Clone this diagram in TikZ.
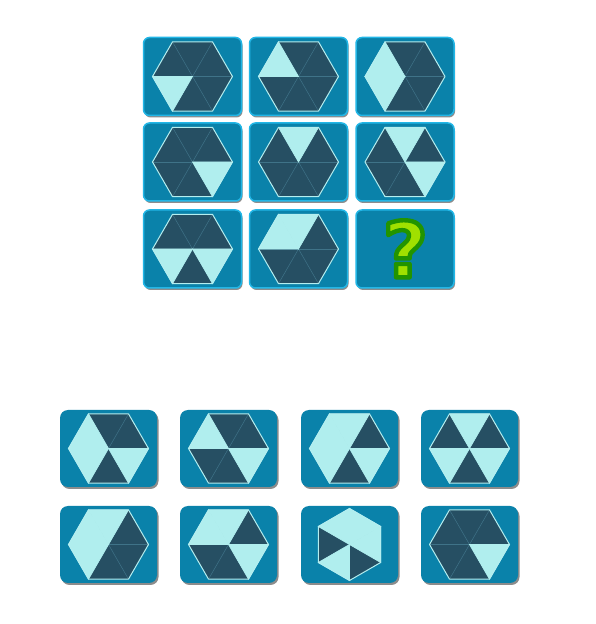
\documentclass[tikz,border=0pt]{standalone}
\usepackage{fontspec}
\newfontfamily\qfont{DejaVu Sans Bold}
\usetikzlibrary{shadows}
\definecolor{darkc}{HTML}{264F63}
\definecolor{lightc}{HTML}{B0EEEE}
\definecolor{tilec}{HTML}{0A82AA}
\definecolor{gridborder}{HTML}{22B6E6}
\definecolor{spokec}{HTML}{3F7388}
\definecolor{hexlinec}{HTML}{B4EEF0}
\definecolor{qgreen}{HTML}{A0E000}
\newcommand\outlinetext[1]{\special{pdf:code 2 Tr 4.4 w 1 j 0.133 0.58 0 RG}#1}
\newcommand\drawhex[4]{%
  \begin{scope}[shift={(#1)},rotate=#2]
    \fill[darkc] (0:#3) -- (60:#3) -- (120:#3) -- (180:#3) -- (240:#3) -- (300:#3) -- cycle;
    \foreach \a in {0,60,...,300} \draw[spokec,line width=0.5pt] (0,0) -- (\a:#3);
    \foreach \k in {#4} \filldraw[fill=lightc,draw=lightc,line width=0.7pt] (0,0) -- (\k*60:#3) -- (\k*60+60:#3) -- cycle;
    \draw[hexlinec,line width=1pt,line join=round] (0:#3) -- (60:#3) -- (120:#3) -- (180:#3) -- (240:#3) -- (300:#3) -- cycle;
  \end{scope}}
\begin{document}
\begin{tikzpicture}[x=1pt,y=1pt,
  gridtile/.style={rectangle,rounded corners=6pt,fill=tilec,draw=gridborder,line width=1.5pt,
    minimum width=98pt,minimum height=78pt,inner sep=0pt,
    drop shadow={shadow xshift=1pt,shadow yshift=-2pt,fill=black,opacity=.45}},
  anstile/.style={rectangle,rounded corners=8pt,fill=tilec,
    minimum width=97pt,minimum height=77pt,inner sep=0pt,
    drop shadow={shadow xshift=1.5pt,shadow yshift=-2pt,fill=black,opacity=.45}}]
\useasboundingbox[fill=white] (0,0) rectangle (596,624);
% grid tiles
\node[gridtile] (t11) at (192.5,547.5) {};
\node[gridtile] (t12) at (298.5,547.5) {};
\node[gridtile] (t13) at (405,547.5) {};
\node[gridtile] (t21) at (192.5,462) {};
\node[gridtile] (t22) at (298.5,462) {};
\node[gridtile] (t23) at (405,462) {};
\node[gridtile] (t31) at (192.5,375) {};
\node[gridtile] (t32) at (298.5,375) {};
\node[gridtile] (t33) at (405,375) {};
\drawhex{t11.center}{0}{40}{3}
\drawhex{t12.center}{0}{40}{2}
\drawhex{t13.center}{0}{40}{2,3}
\drawhex{t21.center}{0}{40}{5}
\drawhex{t22.center}{0}{40}{1}
\drawhex{t23.center}{0}{40}{1,5}
\drawhex{t31.center}{0}{40}{3,5}
\drawhex{t32.center}{0}{40}{1,2}
\node[text=qgreen,font=\qfont\fontsize{77}{77}\selectfont,inner sep=0pt,anchor=base] (q) at (405.3,346.6) {\outlinetext{?}};
% answer tiles
\node[anstile] (a1) at (108.5,175.5) {};
\node[anstile] (a2) at (228.5,175.5) {};
\node[anstile] (a3) at (349.5,175.5) {};
\node[anstile] (a4) at (469.5,175.5) {};
\node[anstile] (a5) at (108.5,79.5) {};
\node[anstile] (a6) at (228.5,79.5) {};
\node[anstile] (a7) at (349.5,79.5) {};
\node[anstile] (a8) at (469.5,79.5) {};
\drawhex{a1.center}{0}{40}{2,3,5}
\drawhex{a2.center}{0}{40}{2,5}
\drawhex{a3.center}{0}{40}{1,2,3,5}
\drawhex{a4.center}{0}{40}{1,3,5}
\drawhex{a5.center}{0}{40}{1,2,3}
\drawhex{a6.center}{0}{40}{1,2,5}
\drawhex{a7.center}{30}{36}{0,1,3,5}
\drawhex{a8.center}{0}{40}{5}
\end{tikzpicture}
\end{document}
